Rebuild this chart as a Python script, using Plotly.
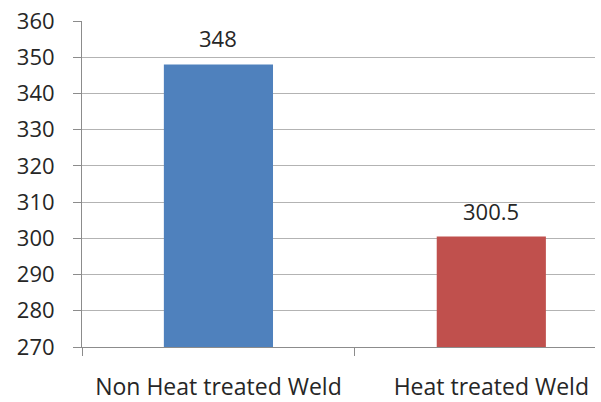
import plotly.graph_objects as go

# Weld hardness comparison
categories = ["Non Heat treated Weld", "Heat treated Weld"]
values = [348, 300.5]
bar_colors = ["#4F81BD", "#C0504D"]
y_ticks = [270, 280, 290, 300, 310, 320, 330, 340, 350, 360]

FONT = "Open Sans"
TEXT_COLOR = "#262626"

fig = go.Figure()
fig.add_trace(go.Bar(
    x=categories,
    y=values,
    width=0.4,
    marker=dict(color=bar_colors, line=dict(width=0)),
    showlegend=False,
    hoverinfo="skip",
))

# value labels above each bar
for cat, v in zip(categories, values):
    fig.add_annotation(
        x=cat, y=v, text=f"{v:g}", showarrow=False,
        yshift=26, yanchor="middle",
        font=dict(family=FONT, size=22, color=TEXT_COLOR),
    )

fig.update_layout(
    width=601, height=402,
    margin=dict(l=82, r=6, t=21, b=55),
    paper_bgcolor="white",
    plot_bgcolor="white",
)

fig.update_xaxes(
    type="category",
    categoryorder="array",
    categoryarray=categories,
    range=[-0.5, 1.38],
    tickson="boundaries",
    ticks="outside",
    ticklen=8,
    tickcolor="#8c8c8c",
    showline=True,
    linecolor="#8c8c8c",
    linewidth=1,
    showgrid=False,
    zeroline=False,
    automargin=False,
    ticklabelstandoff=19,
    tickfont=dict(family=FONT, size=23, color=TEXT_COLOR),
)

fig.update_yaxes(
    range=[270, 360],
    tickmode="array",
    tickvals=y_ticks,
    ticks="outside",
    ticklen=8,
    tickcolor="#8c8c8c",
    showline=True,
    linecolor="#8c8c8c",
    linewidth=1,
    showgrid=True,
    gridcolor="#b3b3b3",
    gridwidth=1,
    zeroline=False,
    automargin=False,
    ticklabelstandoff=14,
    tickfont=dict(family=FONT, size=22, color=TEXT_COLOR),
)

fig.write_html("out.html")
